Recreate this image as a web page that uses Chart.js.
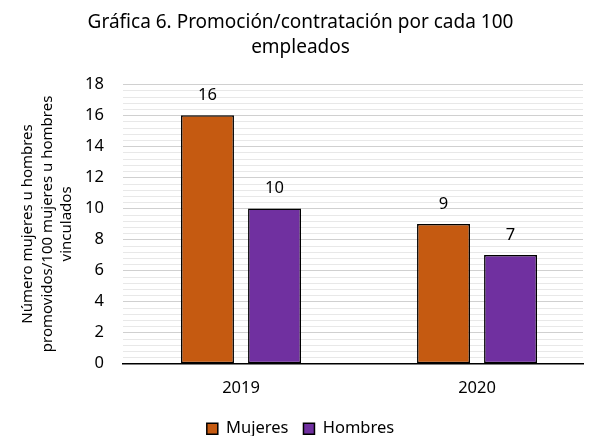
<!DOCTYPE html>
<html>
<head>
<meta charset="utf-8">
<script src="https://cdn.jsdelivr.net/npm/chart.js@4"></script>
<style>
  html, body { margin: 0; padding: 0; background: #fff; }
  #wrap { width: 590px; height: 436px; }
</style>
</head>
<body>
<div id="wrap"><canvas id="chart" width="590" height="436"></canvas></div>
<script>
// ─── DATA ──────────────────────────────────────────────────
const years = ['2019', '2020'];
const mujeres = [16, 9];
const hombres = [10, 7];
const yTicks = [0, 2, 4, 6, 8, 10, 12, 14, 16, 18];

const FONT = "'Noto Sans', sans-serif";
const TICK_SIZE = 16.5;

// ─── DATA LABELS ABOVE BARS ────────────────────────────────
const barLabels = {
  id: 'barLabels',
  afterDatasetsDraw(chart) {
    const ctx = chart.ctx;
    ctx.save();
    ctx.font = TICK_SIZE + 'px ' + FONT;
    ctx.fillStyle = '#000';
    ctx.textAlign = 'center';
    ctx.textBaseline = 'middle';
    chart.data.datasets.forEach((ds, i) => {
      chart.getDatasetMeta(i).data.forEach((bar, j) => {
        ctx.fillText(ds.data[j].y, bar.x, bar.y - 20);
      });
    });
    ctx.restore();
  }
};

// ─── STRIPED PLOT BACKGROUND (minor lines between gridlines) ──
const stripes = {
  id: 'stripes',
  beforeDatasetsDraw(chart) {
    const { ctx, chartArea: a, scales: { y } } = chart;
    ctx.save();
    ctx.strokeStyle = '#e8e8e8';
    ctx.lineWidth = 1;
    for (let k = 0; k < yTicks.length - 1; k++) {
      for (let s = 1; s < 5; s++) {
        const v = yTicks[k] + (yTicks[k + 1] - yTicks[k]) * s / 5;
        const py = Math.round(y.getPixelForValue(v)) + 0.5;
        ctx.beginPath();
        ctx.moveTo(a.left, py);
        ctx.lineTo(a.right, py);
        ctx.stroke();
      }
    }
    ctx.restore();
  }
};

const barStyle = {
  borderColor: '#000',
  borderWidth: 1.5,
  borderSkipped: false,
  categoryPercentage: 0.568,
  barPercentage: 0.79
};

new Chart(document.getElementById('chart'), {
  type: 'bar',
  data: {
    datasets: [
      Object.assign({
        label: 'Mujeres',
        data: mujeres.map((v, i) => ({ x: i, y: v })),
        backgroundColor: '#C55A11'
      }, barStyle),
      Object.assign({
        label: 'Hombres',
        data: hombres.map((v, i) => ({ x: i, y: v })),
        backgroundColor: '#7030A0'
      }, barStyle)
    ]
  },
  options: {
    responsive: false,
    animation: false,
    layout: { padding: { left: 18, right: 7, top: 0, bottom: -11 } },
    plugins: {
      title: {
        display: true,
        text: ['Gráfica 6. Promoción/contratación por cada 100', 'empleados'],
        color: '#000',
        font: { family: FONT, size: 19, weight: 'normal', lineHeight: 1.32 },
        padding: { top: 10, bottom: 24 }
      },
      legend: {
        position: 'bottom',
        labels: {
          color: '#000',
          font: { family: FONT, size: TICK_SIZE },
          boxWidth: 11,
          boxHeight: 11,
          padding: 15
        }
      },
      tooltip: { enabled: false }
    },
    scales: {
      x: {
        type: 'linear',
        offset: false,
        min: -0.5,
        max: 1.449,
        afterBuildTicks: s => { s.ticks = years.map((_, i) => ({ value: i })); },
        grid: { display: false },
        border: { display: true, color: '#000', width: 1.5 },
        ticks: {
          color: '#000',
          font: { family: FONT, size: TICK_SIZE },
          padding: 7,
          callback: v => years[v]
        }
      },
      y: {
        min: 0,
        max: 18,
        afterBuildTicks: s => { s.ticks = yTicks.map(v => ({ value: v })); },
        afterFit: s => { s.width = 105; },
        grid: { color: '#d0d0d0', drawTicks: false },
        border: { display: false },
        ticks: { color: '#000', font: { family: FONT, size: TICK_SIZE }, padding: 19 },
        title: {
          display: true,
          text: ['Número mujeres u hombres', 'promovidos/100 mujeres u hombres', 'vinculados'],
          color: '#000',
          font: { family: FONT, size: 15, lineHeight: 1.3 },
          padding: 0
        }
      }
    }
  },
  plugins: [stripes, barLabels]
});
</script>
</body>
</html>
